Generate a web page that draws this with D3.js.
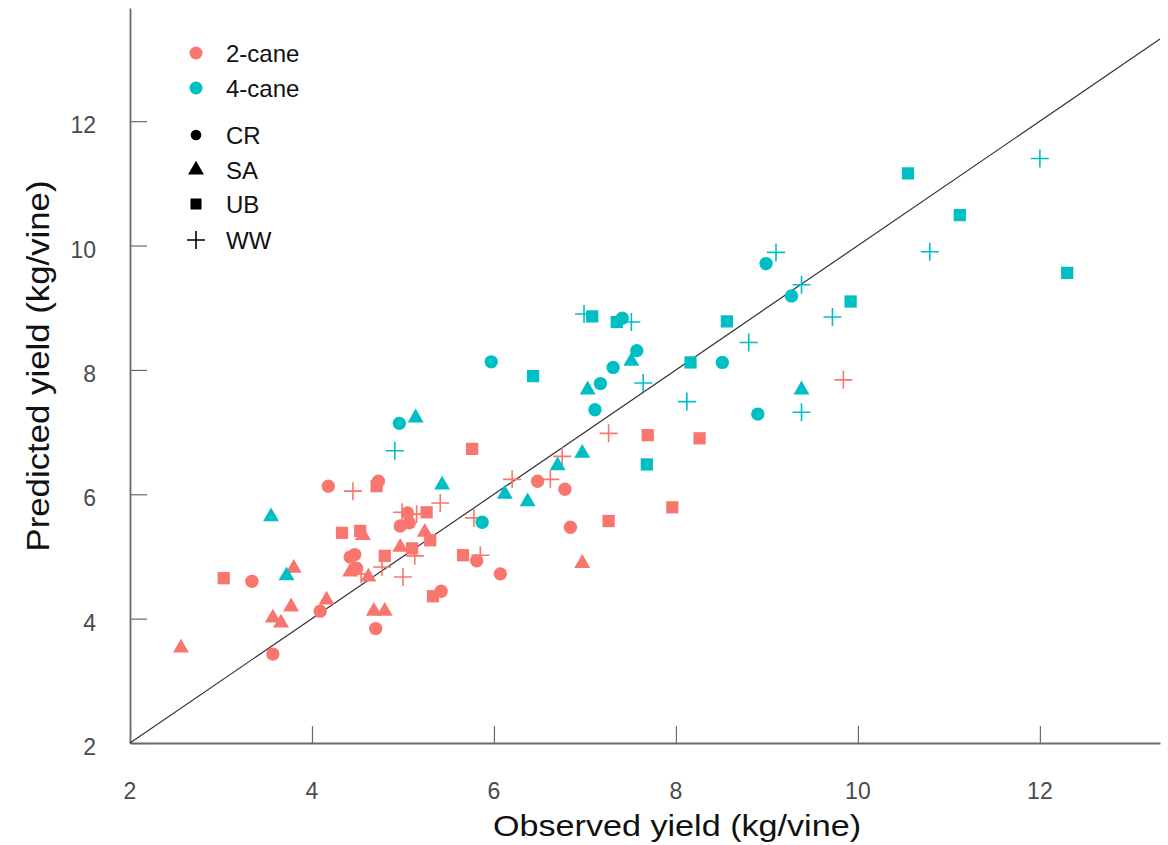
<!DOCTYPE html>
<html><head><meta charset="utf-8">
<script src="https://cdn.jsdelivr.net/npm/d3@7"></script>
<style>
html,body{margin:0;padding:0;background:#fff;}
svg{display:block;font-family:"Liberation Sans",Arial,Helvetica,sans-serif;}
</style></head>
<body><svg id="chart" width="1168" height="845"></svg>
<script>
// ---- DATA: [observed, predicted] (kg/vine) ----
const seriesNames = ["2-cane", "4-cane"];
const siteNames = ["CR", "SA", "UB", "WW"];
const xTicks = [2, 4, 6, 8, 10, 12];
const yTicks = [2, 4, 6, 8, 10, 12];

const cane2_CR = [[3.34,4.60],[3.57,3.43],[4.09,4.12],[4.18,6.13],[4.42,4.99],[4.47,5.03],[4.49,4.81],[4.70,3.84],[4.73,6.21],[4.97,5.49],[5.07,5.54],[5.05,5.70],[5.42,4.44],[5.81,4.93],[6.07,4.72],[6.48,6.21],[6.78,6.08],[6.84,5.47]];
const cane2_SA = [[2.56,3.53],[3.57,4.01],[3.66,3.93],[3.77,4.19],[3.80,4.81],[4.16,4.30],[4.42,4.75],[4.56,5.34],[4.62,4.67],[4.68,4.12],[4.80,4.12],[4.97,5.15],[5.24,5.39],[6.97,4.89]];
const cane2_UB = [[3.03,4.65],[4.33,5.38],[4.53,5.41],[4.71,6.13],[4.80,5.01],[5.10,5.13],[5.26,5.71],[5.30,5.26],[5.33,4.36],[5.66,5.02],[5.76,6.73],[7.26,5.57],[7.69,6.95],[7.96,5.79],[8.26,6.90]];
const cane2_WW = [[4.45,6.05],[4.54,4.72],[4.77,4.83],[4.99,5.71],[5.00,4.67],[5.13,5.01],[5.15,5.68],[5.41,5.86],[5.78,5.62],[5.85,5.02],[6.20,6.24],[6.62,6.24],[6.75,6.61],[7.26,6.98],[9.84,7.84]];

const cane4_CR = [[4.96,7.14],[5.87,5.55],[5.97,8.13],[7.11,7.36],[7.17,7.78],[7.31,8.04],[7.57,8.31],[7.41,8.83],[8.51,8.12],[8.90,7.29],[8.99,9.71],[9.27,9.19]];
const cane4_SA = [[3.55,5.64],[3.72,4.69],[5.14,7.23],[5.43,6.15],[6.12,6.00],[6.37,5.88],[6.70,6.46],[6.97,6.66],[7.03,7.68],[7.51,8.14],[9.38,7.68]];
const cane4_UB = [[6.43,7.90],[7.08,8.86],[7.35,8.77],[7.68,6.48],[8.16,8.12],[8.56,8.78],[9.92,9.10],[10.55,11.16],[11.12,10.49],[12.30,9.56]];
const cane4_WW = [[4.91,6.70],[6.99,8.90],[7.51,8.77],[7.64,7.79],[8.12,7.49],[8.80,8.44],[9.10,9.89],[9.38,9.37],[9.38,7.32],[9.72,8.85],[10.79,9.90],[12.00,11.40]];

// ---- CHART ----
const colors = {"2-cane": "#F8766D", "4-cane": "#00BFC4"};
const groups = [
  {cane:"2-cane", site:"CR", data:cane2_CR},
  {cane:"2-cane", site:"SA", data:cane2_SA},
  {cane:"2-cane", site:"UB", data:cane2_UB},
  {cane:"2-cane", site:"WW", data:cane2_WW},
  {cane:"4-cane", site:"CR", data:cane4_CR},
  {cane:"4-cane", site:"SA", data:cane4_SA},
  {cane:"4-cane", site:"UB", data:cane4_UB},
  {cane:"4-cane", site:"WW", data:cane4_WW}
];

const svg = d3.select("#chart");
const x = d3.scaleLinear().domain([2, 13.32]).range([130, 1160]);
const y = d3.scaleLinear().domain([2, 13.82]).range([743, 8]);

const axisColor = "#6b6b6b";
const labelColor = "#4a4a4a";

// x axis (ticks inward)
const gx = svg.append("g").attr("transform", `translate(0,${y(2)})`)
  .call(d3.axisTop(x).tickValues(xTicks).tickSize(17).tickSizeOuter(0).tickFormat(""));
gx.select(".domain").attr("stroke", axisColor).attr("stroke-width", 1.8);
gx.selectAll(".tick line").attr("stroke", axisColor).attr("stroke-width", 1.2);
svg.append("g").selectAll("text").data(xTicks).join("text")
  .attr("x", d => x(d)).attr("y", y(2) + 56)
  .attr("text-anchor", "middle").attr("font-size", 23).attr("fill", labelColor)
  .text(d => d);

// y axis (ticks inward)
const gy = svg.append("g").attr("transform", `translate(${x(2)},0)`)
  .call(d3.axisRight(y).tickValues(yTicks).tickSize(17).tickSizeOuter(0).tickFormat(""));
gy.select(".domain").attr("stroke", axisColor).attr("stroke-width", 1.8);
gy.selectAll(".tick line").attr("stroke", axisColor).attr("stroke-width", 1.2);
svg.append("g").selectAll("text").data(yTicks).join("text")
  .attr("x", x(2) - 34).attr("y", d => y(d) + 12)
  .attr("text-anchor", "end").attr("font-size", 23).attr("fill", labelColor)
  .text(d => d);

// axis titles
svg.append("text").attr("x", 677).attr("y", 836).attr("text-anchor", "middle")
  .attr("font-size", 29).attr("fill", "#111")
  .attr("textLength", 368).attr("lengthAdjust", "spacingAndGlyphs")
  .text("Observed yield (kg/vine)");
svg.append("text").attr("transform", `translate(49,366) rotate(-90)`).attr("text-anchor", "middle")
  .attr("font-size", 32).attr("fill", "#111")
  .attr("textLength", 371).attr("lengthAdjust", "spacingAndGlyphs")
  .text("Predicted yield (kg/vine)");

// 1:1 line
svg.append("line")
  .attr("x1", x(2)).attr("y1", y(2))
  .attr("x2", x(13.32)).attr("y2", y(13.32))
  .attr("stroke", "#333").attr("stroke-width", 1.2);

// markers
const triPath = d3.symbol().type(d3.symbolTriangle).size(110)();
const sqPath = d3.symbol().type(d3.symbolSquare).size(150)();
const circPath = d3.symbol().type(d3.symbolCircle).size(140)();
function drawMarker(sel, site, color, scale) {
  scale = scale || 1;
  if (site === "WW") {
    const h = 9 * scale;
    sel.append("path").attr("d", `M${-h},0H${h}M0,${-h}V${h}`)
      .attr("stroke", color).attr("stroke-width", 1.6).attr("fill", "none");
  } else {
    const p = site === "CR" ? circPath : site === "SA" ? triPath : sqPath;
    sel.append("path").attr("d", p).attr("fill", color)
      .attr("transform", scale !== 1 ? `scale(${scale})` : null);
  }
}

const pts = svg.append("g");
groups.forEach(g => {
  g.data.forEach(d => {
    const m = pts.append("g").attr("transform", `translate(${x(d[0])},${y(d[1])})`);
    drawMarker(m, g.site, colors[g.cane]);
  });
});

// legend
const leg = svg.append("g");
seriesNames.forEach((s, i) => {
  const cy = 53 + i * 35;
  leg.append("circle").attr("cx", 196).attr("cy", cy).attr("r", 6.5).attr("fill", colors[s]);
  leg.append("text").attr("x", 226).attr("y", cy + 9).attr("font-size", 24).attr("fill", "#111").text(s);
});
const siteY = [135, 170, 204, 240];
siteNames.forEach((s, i) => {
  const m = leg.append("g").attr("transform", `translate(196,${siteY[i]})`);
  drawMarker(m, s, "#000", s === "CR" ? 0.8 : s === "UB" ? 0.9 : 1);
  leg.append("text").attr("x", 226).attr("y", siteY[i] + 9).attr("font-size", 24).attr("fill", "#111").text(s);
});
</script></body></html>
